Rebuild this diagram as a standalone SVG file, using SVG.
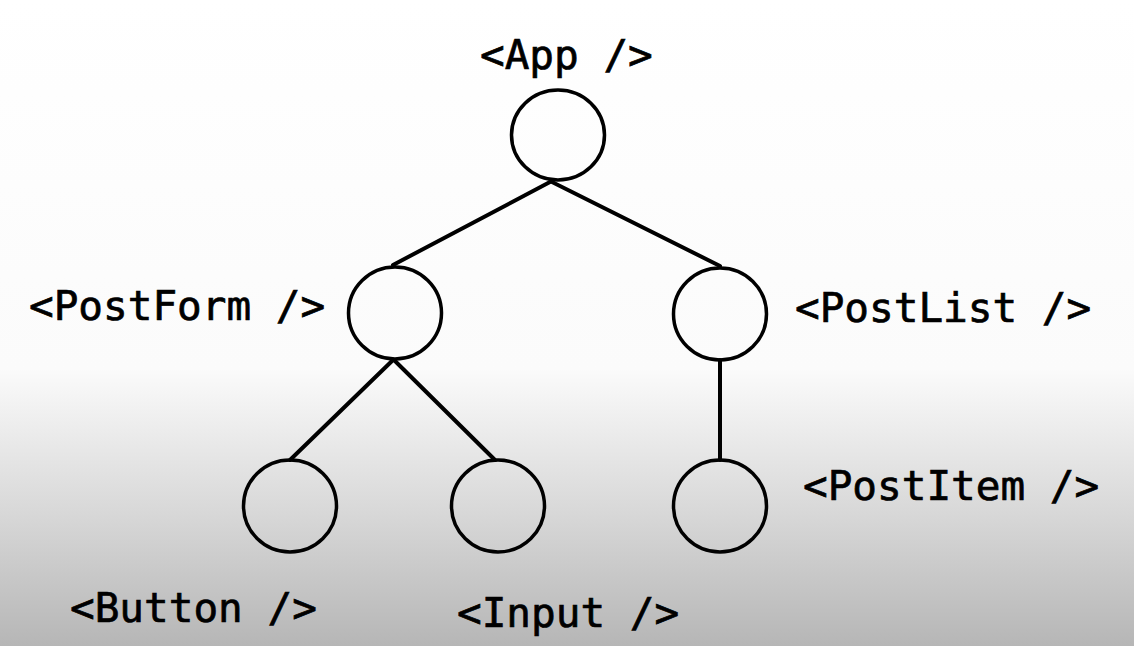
<svg xmlns="http://www.w3.org/2000/svg" width="1134" height="646" viewBox="0 0 1134 646">
  <defs>
    <linearGradient id="bg" x1="0" y1="0" x2="0" y2="646" gradientUnits="userSpaceOnUse">
      <stop offset="0" stop-color="#ffffff"/>
      <stop offset="0.57" stop-color="#fbfbfb"/>
      <stop offset="0.78" stop-color="#dadada"/>
      <stop offset="1" stop-color="#b6b6b6"/>
    </linearGradient>
    <style>
      .node { fill: none; stroke: #000; stroke-width: 3.5; }
      .edge { fill: none; stroke: #000; stroke-width: 4; stroke-linecap: round; }
      .label { font-family: "DejaVu Sans Mono", "Liberation Mono", monospace; font-size: 41px; fill: #000; stroke: #000; stroke-width: 0.7; }
    </style>
  </defs>

  <rect width="1134" height="646" fill="url(#bg)"/>

  <!-- tree edges -->
  <g id="connectors">
    <line class="edge" x1="550" y1="182" x2="393" y2="265"/>
    <line class="edge" x1="552" y1="182" x2="720" y2="266"/>
    <line class="edge" x1="393" y1="360" x2="290" y2="460"/>
    <line class="edge" x1="394" y1="360" x2="495" y2="460"/>
    <line class="edge" x1="720" y1="360" x2="720" y2="460"/>
  </g>

  <g id="app">
    <ellipse class="node" cx="558" cy="135" rx="46.5" ry="45"/>
    <text class="label" x="480" y="69">&lt;App /&gt;</text>
  </g>

  <g id="postform">
    <ellipse class="node" cx="395" cy="313" rx="46.5" ry="46"/>
    <text class="label" x="29" y="320">&lt;PostForm /&gt;</text>
  </g>

  <g id="postlist">
    <ellipse class="node" cx="720" cy="314" rx="46.5" ry="46"/>
    <text class="label" x="795" y="322">&lt;PostList /&gt;</text>
  </g>

  <g id="button">
    <ellipse class="node" cx="290" cy="506" rx="46.5" ry="46"/>
    <text class="label" x="70" y="622">&lt;Button /&gt;</text>
  </g>

  <g id="input">
    <ellipse class="node" cx="498" cy="506" rx="46.5" ry="46"/>
    <text class="label" x="457" y="627">&lt;Input /&gt;</text>
  </g>

  <g id="postitem">
    <ellipse class="node" cx="720" cy="506" rx="46.5" ry="46"/>
    <text class="label" x="803" y="500">&lt;PostItem /&gt;</text>
  </g>
</svg>
